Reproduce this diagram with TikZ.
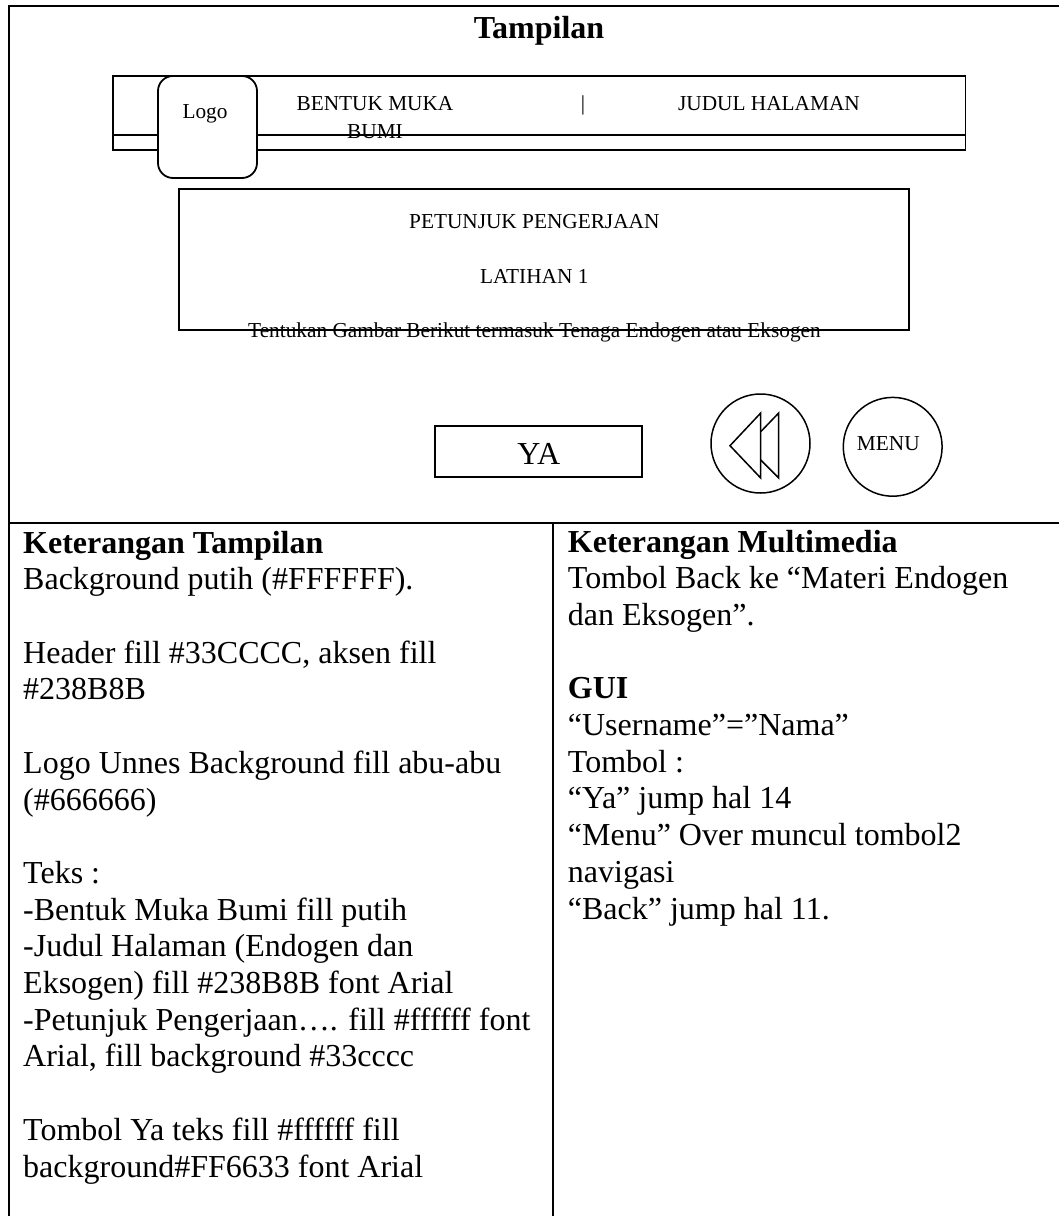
\documentclass[tikz,border=0pt]{standalone}
\usepackage{fontspec}
\setmainfont{Liberation Serif}
\tikzset{
  x=1pt,y=-1pt,
  frame/.style={line width=2pt,black},
  box/.style={line width=1.8pt,draw=black},
  thin box/.style={line width=1.5pt,draw=black},
  lbl/.style={inner sep=0pt,anchor=base,text=black},
  small/.style={lbl,font=\fontsize{21.3}{24}\selectfont},
  body/.style={inner sep=0pt,anchor=base west,align=left,text=black,font=\fontsize{32}{36.7}\selectfont},
}
\begin{document}
\begin{tikzpicture}
\useasboundingbox (0,0) rectangle (1059,1216);
% table frame
\coordinate (tl) at (9,5.7); \coordinate (tr) at (1059,5.7);
\coordinate (ml) at (9,522.7); \coordinate (mr) at (1059,522.7);
\coordinate (bl) at (9,1216); \coordinate (mt) at (553,522.7); \coordinate (mb) at (553,1216);
\draw[frame] (bl) -- (tl) -- (tr);
\draw[frame] (ml) -- (mr);
\draw[frame] (mt) -- (mb);
\node[lbl,font=\bfseries\fontsize{32}{36}\selectfont] (title) at (539,38) {Tampilan};
% header
\draw[box] (113,76) rectangle (965.5,149.7);
\draw[box] (113,134.7) -- (965.5,134.7);
\node[box,rounded corners=15pt,fill=white,minimum width=99pt,minimum height=102pt,inner sep=0pt] (logo) at (207.5,127) {};
\node[small] (logot) at (205,118) {Logo};
\node[small] (bm) at (375,110) {BENTUK MUKA};
\node[small] (bm2) at (375,138) {BUMI};
\node[small] (sep) at (583,110) {|};
\node[small] (jh) at (769,110) {JUDUL HALAMAN};
% instruction box
\draw[box] (179.3,189.3) rectangle (908.7,329.7);
\node[small] (pp) at (534.3,228.3) {PETUNJUK PENGERJAAN};
\node[small] (lat) at (534.3,283) {LATIHAN 1};
\node[small] (tg) at (534.5,337.3) {Tentukan Gambar Berikut termasuk Tenaga Endogen atau Eksogen};
% buttons
\draw[box] (435,426) rectangle (641.7,477.3);
\node[lbl,font=\fontsize{32}{36}\selectfont] (ya) at (538.8,464.3) {YA};
\draw[thin box] (760.5,443.5) circle[radius=49.5];
\coordinate (a1) at (730,445.7); \coordinate (a2) at (760.7,413); \coordinate (a3) at (760.7,478);
\coordinate (b1) at (760.7,431.7); \coordinate (b2) at (778.7,413); \coordinate (b3) at (778.7,478); \coordinate (b4) at (760.7,460);
\draw[thin box,line join=miter] (a1) -- (a2) -- (a3) -- cycle;
\draw[thin box,line join=miter] (b1) -- (b2) -- (b3) -- (b4);
\draw[thin box] (892.7,446.8) circle[radius=49.4];
\node[small] (menu) at (888.3,450.7) {MENU};
% left column
\node[body] (lt) at (23,1177) {\textbf{Keterangan Tampilan}\\Background putih (\#FFFFFF).\\[36.7pt]Header fill \#33CCCC, aksen fill\\\#238B8B\\[36.7pt]Logo Unnes Background fill abu-abu\\(\#666666)\\[36.7pt]Teks :\\-Bentuk Muka Bumi fill putih\\-Judul Halaman (Endogen dan\\Eksogen) fill \#238B8B font Arial\\-Petunjuk Pengerjaan…. fill \#ffffff font\\Arial, fill background \#33cccc\\[36.7pt]Tombol Ya teks fill \#ffffff fill\\background\#FF6633 font Arial};
% right column
\node[body] (rt) at (567.7,919) {\textbf{Keterangan Multimedia}\\Tombol Back ke “Materi Endogen\\dan Eksogen”.\\[36.7pt]\textbf{GUI}\\“Username”=”Nama”\\Tombol :\\“Ya” jump hal 14\\“Menu” Over muncul tombol2\\navigasi\\“Back” jump hal 11.};
\end{tikzpicture}
\end{document}
